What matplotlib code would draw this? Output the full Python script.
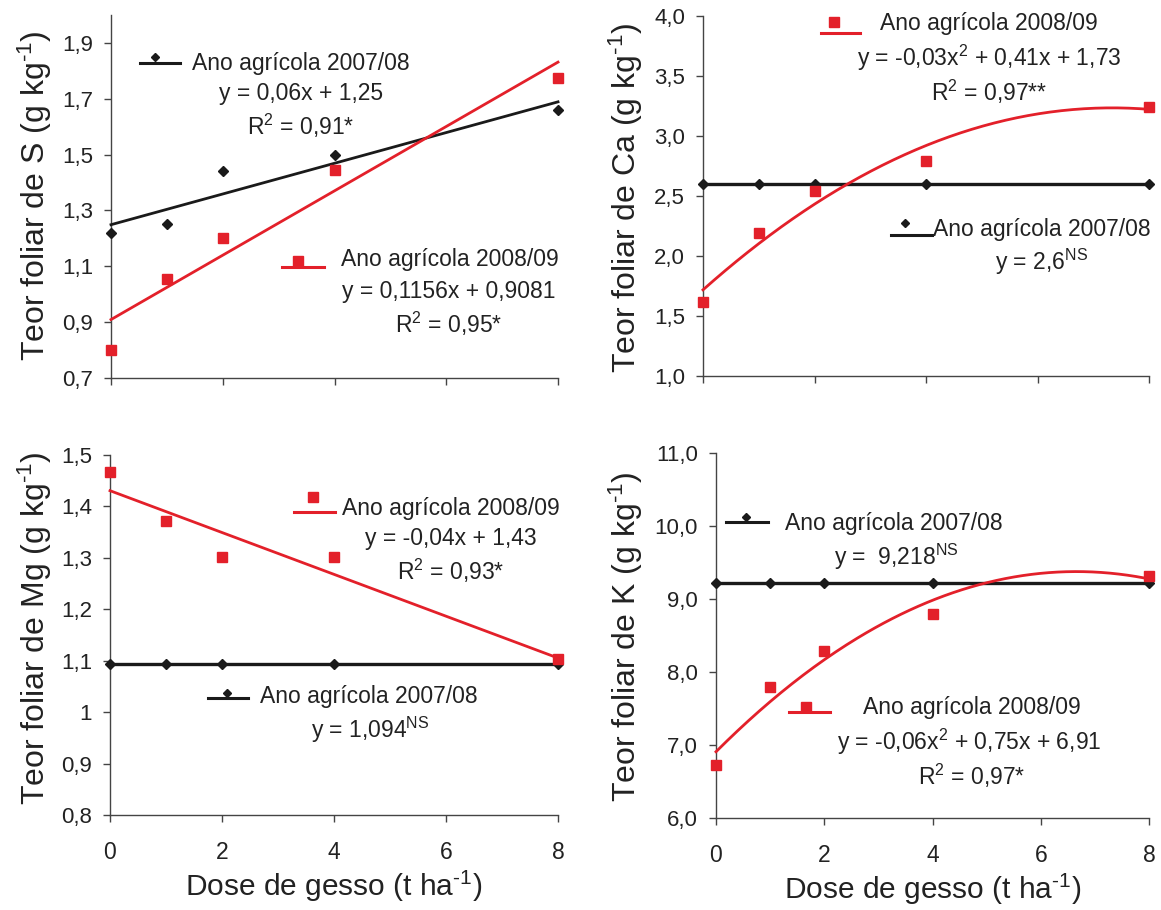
import matplotlib
matplotlib.use("Agg")
import matplotlib.pyplot as plt
from matplotlib.lines import Line2D
import numpy as np

plt.rcParams['font.family'] = ['Liberation Sans', 'DejaVu Sans']
plt.rcParams['mathtext.fontset'] = 'custom'
plt.rcParams['mathtext.rm'] = 'Liberation Sans'
plt.rcParams['mathtext.it'] = 'Liberation Sans:italic'
plt.rcParams['mathtext.default'] = 'regular'

# doses de gesso (t/ha)
dose = np.array([0, 1, 2, 4, 8])

# S
s_0708 = np.array([1.22, 1.25, 1.44, 1.50, 1.66])
s_0809 = np.array([0.80, 1.055, 1.20, 1.445, 1.775])
# Ca
ca_0708 = np.array([2.6, 2.6, 2.6, 2.6, 2.6])
ca_0809 = np.array([1.615, 2.195, 2.545, 2.795, 3.245])
# Mg
mg_0708 = np.array([1.094, 1.094, 1.094, 1.094, 1.094])
mg_0809 = np.array([1.466, 1.372, 1.301, 1.301, 1.103])
# K
k_0708 = np.array([9.218, 9.218, 9.218, 9.218, 9.218])
k_0809 = np.array([6.726, 7.80, 8.29, 8.80, 9.31])

xticks = [0, 2, 4, 6, 8]
s_ticks = [0.7, 0.9, 1.1, 1.3, 1.5, 1.7, 1.9]
s_labels = ['0,7', '0,9', '1,1', '1,3', '1,5', '1,7', '1,9']
ca_ticks = [1.0, 1.5, 2.0, 2.5, 3.0, 3.5, 4.0]
ca_labels = ['1,0', '1,5', '2,0', '2,5', '3,0', '3,5', '4,0']
mg_ticks = [0.8, 0.9, 1.0, 1.1, 1.2, 1.3, 1.4, 1.5]
mg_labels = ['0,8', '0,9', '1', '1,1', '1,2', '1,3', '1,4', '1,5']
k_ticks = [6, 7, 8, 9, 10, 11]
k_labels = ['6,0', '7,0', '8,0', '9,0', '10,0', '11,0']

RED = '#e3202a'
BLK = '#1a1a1a'
TXT = '#222222'
W, H = 1161, 910

fig = plt.figure(figsize=(W / 100, H / 100), dpi=100)


def make_ax(l, t, r, b, ylim, yt, ylab, show_x):
    ax = fig.add_axes([l / W, 1 - b / H, (r - l) / W, (b - t) / H])
    ax.set_xlim(0, 8)
    ax.set_ylim(*ylim)
    for s in ['top', 'right']:
        ax.spines[s].set_visible(False)
    for s in ['left', 'bottom']:
        ax.spines[s].set_color('#444444')
        ax.spines[s].set_linewidth(1.0)
    ax.set_xticks(xticks)
    ax.set_yticks(yt)
    ax.set_yticklabels(ylab)
    if show_x:
        ax.set_xticklabels([str(v) for v in xticks])
    else:
        ax.set_xticklabels([])
    ax.tick_params(axis='both', direction='out', length=5, width=1,
                   color='#444444', labelcolor=TXT, labelsize=16)
    ax.tick_params(axis='y', pad=8)
    ax.tick_params(axis='x', pad=14, labelsize=16.5)
    return ax


def fit_curve(ax, y, deg, color, lw):
    c = np.polyfit(dose, y, deg)
    xx = np.linspace(0, 8, 200)
    ax.plot(xx, np.polyval(c, xx), color=color, lw=lw, clip_on=False, zorder=3)


def pts(ax, y, kind):
    if kind == 'sq':
        ax.plot(dose, y, ls='none', marker='s', ms=7.5, color=RED,
                clip_on=False, zorder=4)
    else:
        ax.plot(dose, y, ls='none', marker='D', ms=5, color=BLK,
                clip_on=False, zorder=4)


def fx(x):
    return x / W


def fy(y):
    return 1 - y / H


def glyph(x1, x2, yl, xm, ym, kind):
    col = RED if kind == 'sq' else BLK
    fig.add_artist(Line2D([fx(x1), fx(x2)], [fy(yl), fy(yl)],
                          transform=fig.transFigure, color=col, lw=2.2))
    if kind == 'sq':
        fig.add_artist(Line2D([fx(xm)], [fy(ym)], transform=fig.transFigure,
                              marker='s', ms=7, color=RED, ls='none'))
    else:
        fig.add_artist(Line2D([fx(xm)], [fy(ym)], transform=fig.transFigure,
                              marker='D', ms=4.2, color=BLK, ls='none'))


def label(cx, cy, s, ha='center'):
    fig.text(fx(cx), fy(cy + 8), s, ha=ha, va='baseline',
             fontsize=16.5, color=TXT)


def ylab(cx, cy, s):
    fig.text(fx(cx), fy(cy), s, rotation=90, ha='center', va='center',
             fontsize=23, color=TXT)


UNIT = r'(g kg$^{\text{-1}}$)'
XLAB = r'Dose de gesso (t ha$^{\text{-1}}$)'

# ---- S ----
ax1 = make_ax(111, 15, 558, 378, (0.7, 2.0), s_ticks, s_labels, False)
fit_curve(ax1, s_0708, 1, BLK, 2.0)
fit_curve(ax1, s_0809, 1, RED, 2.0)
pts(ax1, s_0708, 'd')
pts(ax1, s_0809, 'sq')
glyph(140, 180, 63, 155, 57, 'd')
label(301, 62, 'Ano agrícola 2007/08', ha='center')
label(301, 92, 'y = 0,06x + 1,25')
label(301, 127, 'R$^2$ = 0,91*')
glyph(282, 324, 267, 298, 261, 'sq')
label(450, 258, 'Ano agrícola 2008/09')
label(449, 290, 'y = 0,1156x + 0,9081')
label(449, 325, 'R$^2$ = 0,95*')
ylab(35, 196, 'Teor foliar de S ' + UNIT)

# ---- Ca ----
ax2 = make_ax(703, 16, 1149, 376, (1.0, 4.0), ca_ticks, ca_labels, False)
ax2.plot(dose, ca_0708, color=BLK, lw=2.4, marker='D', ms=5, clip_on=False, zorder=3)
fit_curve(ax2, ca_0809, 2, RED, 2.0)
pts(ax2, ca_0809, 'sq')
glyph(821, 860, 33, 834, 22, 'sq')
label(989, 22, 'Ano agrícola 2008/09')
label(989, 58, 'y = -0,03x$^2$ + 0,41x + 1,73')
label(989, 93, 'R$^2$ = 0,97**')
glyph(891, 932, 235, 905, 223, 'd')
label(1042, 228, 'Ano agrícola 2007/08')
label(1042, 262, 'y = 2,6$^{NS}$')
ylab(626, 198, 'Teor foliar de Ca ' + UNIT)

# ---- Mg ----
ax3 = make_ax(110, 455, 558, 815, (0.8, 1.5), mg_ticks, mg_labels, True)
ax3.plot(dose, mg_0708, color=BLK, lw=2.4, marker='D', ms=5, clip_on=False, zorder=3)
fit_curve(ax3, mg_0809, 1, RED, 2.0)
pts(ax3, mg_0809, 'sq')
glyph(294, 335, 512, 313, 497, 'sq')
label(451, 507, 'Ano agrícola 2008/09')
label(451, 537, 'y = -0,04x + 1,43')
label(451, 572, 'R$^2$ = 0,93*')
glyph(208, 248, 698, 227, 693, 'd')
label(369, 695, 'Ano agrícola 2007/08')
label(370, 730, 'y = 1,094$^{NS}$')
ylab(35, 628, 'Teor foliar de Mg ' + UNIT)
ax3.set_xlabel(XLAB, fontsize=21.5, color=TXT, labelpad=3)

# ---- K ----
ax4 = make_ax(716, 453, 1149, 818, (6.0, 11.0), k_ticks, k_labels, True)
ax4.plot(dose, k_0708, color=BLK, lw=2.4, marker='D', ms=5, clip_on=False, zorder=3)
fit_curve(ax4, k_0809, 2, RED, 2.0)
pts(ax4, k_0809, 'sq')
glyph(726, 768, 522, 746, 517, 'd')
label(894, 522, 'Ano agrícola 2007/08')
label(896, 557, 'y =  9,218$^{NS}$')
glyph(789, 830, 712, 806, 707, 'sq')
label(972, 706, 'Ano agrícola 2008/09')
label(969, 742, 'y = -0,06x$^2$ + 0,75x + 6,91')
label(972, 777, 'R$^2$ = 0,97*')
ylab(626, 637, 'Teor foliar de K ' + UNIT)
ax4.set_xlabel(XLAB, fontsize=21.5, color=TXT, labelpad=3)

fig.savefig('out.png', dpi=100)
